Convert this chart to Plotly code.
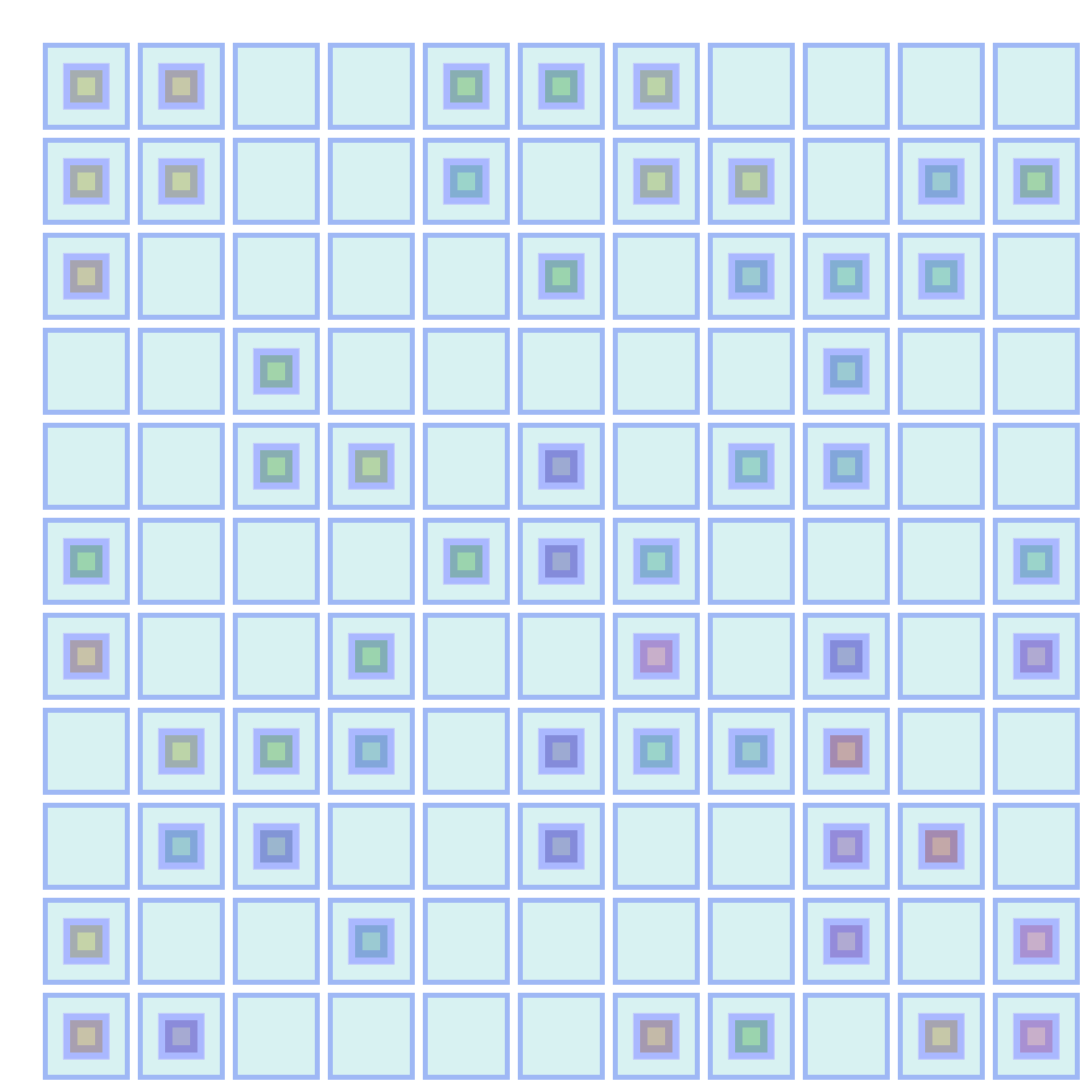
import plotly.graph_objects as go

# ---- data -------------------------------------------------------------
grid_rows = 11
grid_cols = 11

node_row = [0, 0, 0, 0, 0,
            1, 1, 1, 1, 1, 1, 1,
            2, 2, 2, 2, 2,
            3, 3,
            4, 4, 4, 4, 4,
            5, 5, 5, 5, 5,
            6, 6, 6, 6, 6,
            7, 7, 7, 7, 7, 7, 7,
            8, 8, 8, 8, 8,
            9, 9, 9, 9,
            10, 10, 10, 10, 10, 10]
node_col = [0, 1, 4, 5, 6,
            0, 1, 4, 6, 7, 9, 10,
            0, 5, 7, 8, 9,
            2, 8,
            2, 3, 5, 7, 8,
            0, 4, 5, 6, 10,
            0, 3, 6, 8, 10,
            1, 2, 3, 5, 6, 7, 8,
            1, 2, 5, 8, 9,
            0, 3, 8, 10,
            0, 1, 6, 7, 9, 10]
node_color = ["#C5D3A8", "#C6C8A8", "#A2D4AA", "#9BD4AE", "#BCD4A8",
              "#C5D3A8", "#C5D3A8", "#9BD4CA", "#BCD4A8", "#BCD4A8", "#9BCAD2", "#A2D4AA",
              "#C6C8A8", "#9BD4AE", "#9BCAD2", "#9BD4CA", "#9BD4CA",
              "#A2D4AA", "#9BCAD2",
              "#A2D4AA", "#B4D4A6", "#9DAAD2", "#9BD4CA", "#9BCAD2",
              "#9BD4AE", "#9BD4AE", "#9DAAD2", "#9BD4CA", "#9BD4CA",
              "#C8C2A8", "#9BD4AE", "#C8AFCA", "#9DAAD2", "#B0AAD2",
              "#BCD4A8", "#A2D4AA", "#9BCAD2", "#9DAAD2", "#9BD4CA", "#9BCAD2", "#C3A8A8",
              "#9BCAD2", "#9BB6CE", "#9DAAD2", "#B0AAD2", "#C3A8A8",
              "#C5D3A8", "#9BCAD2", "#B0AAD2", "#C8AFCA",
              "#C8C2A8", "#A6AAD2", "#C4BAA8", "#9BD4AE", "#C6C8A8", "#C8AFCA"]

# ---- styling helpers --------------------------------------------------
def ring_of(hex_color):
    r = int(hex_color[1:3], 16)
    g = int(hex_color[3:5], 16)
    b = int(hex_color[5:7], 16)
    return "rgb(%d,%d,%d)" % (round(r * 0.84), round(g * 0.82), min(255, b + 8))

ring_colors = [ring_of(c) for c in node_color]

all_x = [c for r in range(grid_rows) for c in range(grid_cols)]
all_y = [r for r in range(grid_rows) for c in range(grid_cols)]

fig = go.Figure()

# background cells
fig.add_trace(go.Scatter(
    x=all_x, y=all_y, mode="markers", hoverinfo="skip", showlegend=False,
    marker=dict(symbol="square", size=82, color="#D8F2F2",
                line=dict(color="#9FB8F5", width=5)),
))

# blue halo of occupied nodes
fig.add_trace(go.Scatter(
    x=node_col, y=node_row, mode="markers", hoverinfo="skip", showlegend=False,
    marker=dict(symbol="square", size=46, color="#AAB8FF",
                line=dict(color="#C5CFFA", width=1)),
))

# coloured node markers
fig.add_trace(go.Scatter(
    x=node_col, y=node_row, mode="markers", showlegend=False,
    marker=dict(symbol="square", size=25, color=node_color,
                line=dict(color=ring_colors, width=7.3)),
))

x0 = -0.9084
span = 1080 / 95.0
fig.update_layout(
    width=1080, height=1080,
    margin=dict(l=0, r=0, t=0, b=0),
    paper_bgcolor="white", plot_bgcolor="white",
    xaxis=dict(range=[x0, x0 + span], visible=False, fixedrange=True),
    yaxis=dict(range=[x0 + span, x0], visible=False, fixedrange=True),
)

fig.write_html("out.html")
